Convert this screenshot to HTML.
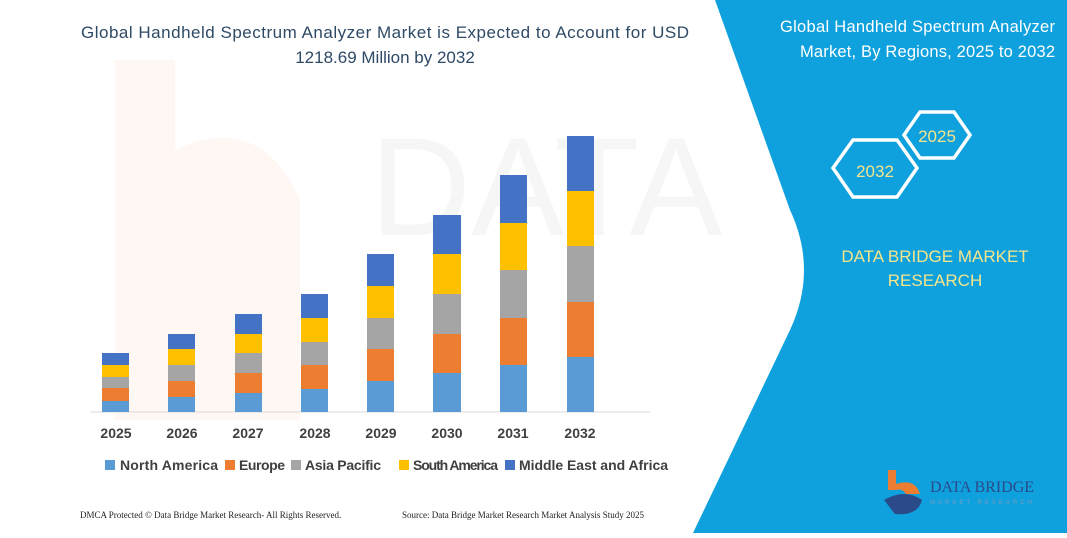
<!DOCTYPE html>
<html><head><meta charset="utf-8"><style>
body{margin:0;width:1067px;height:533px;overflow:hidden;background:#fff;font-family:"Liberation Sans",sans-serif;}
</style></head><body>
<svg width="1067" height="533" viewBox="0 0 1067 533" xmlns="http://www.w3.org/2000/svg">
<rect width="1067" height="533" fill="#fff"/>
<!-- faint watermark -->
<text x="370" y="235" font-size="140" fill="#f6f6f6" font-family="Liberation Sans">DATA</text>
<path d="M115,60 L175,60 L175,150 Q260,110 300,200 L300,420 L115,420 Z" fill="#fef7f3"/>
<!-- blue panel -->
<path d="M715,0 L1067,0 L1067,533 L693,533 L790,330 Q818,270 790,210 Z" fill="#0ea1dd"/>
<text x="1055" y="32" font-size="16.5" fill="#fff" text-anchor="end" textLength="275">Global Handheld Spectrum Analyzer</text>
<text x="1055" y="57" font-size="16.5" fill="#fff" text-anchor="end" textLength="255">Market, By Regions, 2025 to 2032</text>
<polygon points="904,135 920,112 954,112 970,135 954,158 920,158" fill="none" stroke="#fff" stroke-width="3.5"/>
<text x="937" y="142" font-size="17" fill="#f4e58c" text-anchor="middle">2025</text>
<polygon points="833,168 853,140 897,140 917,168 897,197 853,197" fill="none" stroke="#fff" stroke-width="3.5"/>
<text x="875" y="177" font-size="17" fill="#f4e58c" text-anchor="middle">2032</text>
<text x="935" y="262" font-size="17" fill="#f4e58c" text-anchor="middle">DATA BRIDGE MARKET</text>
<text x="935" y="286" font-size="17" fill="#f4e58c" text-anchor="middle">RESEARCH</text>
<!-- logo -->
<path d="M888,470 L896,470 L896,484 Q915,478 920,494 L906,494 Q902,488 896,490 L888,490 Z" fill="#ed7d31"/>
<path d="M884,500 Q905,488 922,500 Q918,516 895,514 Z" fill="#2b4a8a"/>
<text x="930" y="492" font-size="16" fill="#2b4a8a" font-family="Liberation Serif">DATA BRIDGE</text>
<text x="930" y="504" font-size="6" fill="#7a9ac0" letter-spacing="3">MARKET RESEARCH</text>
<!-- title -->
<text x="385" y="38" font-size="17" fill="#2e4a66" text-anchor="middle" textLength="608">Global Handheld Spectrum Analyzer Market is Expected to Account for  USD</text>
<text x="385" y="63" font-size="17" fill="#2e4a66" text-anchor="middle">1218.69 Million by 2032</text>
<!-- axis -->
<line x1="90" y1="412" x2="650" y2="412" stroke="#d9d9d9" stroke-width="1"/>
<g font-size="14" font-weight="bold" fill="#404040" text-anchor="middle">
<text x="116" y="438">2025</text><text x="182" y="438">2026</text><text x="248" y="438">2027</text><text x="315" y="438">2028</text>
<text x="381" y="438">2029</text><text x="447" y="438">2030</text><text x="513" y="438">2031</text><text x="580" y="438">2032</text>
</g>
<g font-size="14" font-weight="bold" fill="#404040">
<rect x="105" y="460" width="10" height="10" fill="#5b9bd5"/><text x="120" y="470" textLength="98">North America</text>
<rect x="225" y="460" width="10" height="10" fill="#ed7d31"/><text x="239" y="470" textLength="46">Europe</text>
<rect x="291" y="460" width="10" height="10" fill="#a5a5a5"/><text x="305" y="470" textLength="76">Asia Pacific</text>
<rect x="399" y="460" width="10" height="10" fill="#ffc000"/><text x="413" y="470" textLength="85">South America</text>
<rect x="505" y="460" width="10" height="10" fill="#4472c4"/><text x="519" y="470" textLength="149">Middle East and Africa</text>
</g>
<text x="80" y="518" font-size="9" fill="#222" font-family="Liberation Serif">DMCA Protected © Data Bridge Market Research-  All Rights Reserved.</text>
<text x="402" y="518" font-size="9" fill="#222" font-family="Liberation Serif">Source: Data Bridge Market Research  Market Analysis Study 2025</text>
<!-- bars -->
<g>
<rect x="102" y="401" width="27" height="11" fill="#5b9bd5"/><rect x="102" y="388" width="27" height="13" fill="#ed7d31"/><rect x="102" y="377" width="27" height="11" fill="#a5a5a5"/><rect x="102" y="365" width="27" height="12" fill="#ffc000"/><rect x="102" y="353" width="27" height="12" fill="#4472c4"/>
<rect x="168" y="397" width="27" height="15" fill="#5b9bd5"/><rect x="168" y="381" width="27" height="16" fill="#ed7d31"/><rect x="168" y="365" width="27" height="16" fill="#a5a5a5"/><rect x="168" y="349" width="27" height="16" fill="#ffc000"/><rect x="168" y="334" width="27" height="15" fill="#4472c4"/>
<rect x="235" y="393" width="27" height="19" fill="#5b9bd5"/><rect x="235" y="373" width="27" height="20" fill="#ed7d31"/><rect x="235" y="353" width="27" height="20" fill="#a5a5a5"/><rect x="235" y="334" width="27" height="19" fill="#ffc000"/><rect x="235" y="314" width="27" height="20" fill="#4472c4"/>
<rect x="301" y="389" width="27" height="23" fill="#5b9bd5"/><rect x="301" y="365" width="27" height="24" fill="#ed7d31"/><rect x="301" y="342" width="27" height="23" fill="#a5a5a5"/><rect x="301" y="318" width="27" height="24" fill="#ffc000"/><rect x="301" y="294" width="27" height="24" fill="#4472c4"/>
<rect x="367" y="381" width="27" height="31" fill="#5b9bd5"/><rect x="367" y="349" width="27" height="32" fill="#ed7d31"/><rect x="367" y="318" width="27" height="31" fill="#a5a5a5"/><rect x="367" y="286" width="27" height="32" fill="#ffc000"/><rect x="367" y="254" width="27" height="32" fill="#4472c4"/>
<rect x="433" y="373" width="28" height="39" fill="#5b9bd5"/><rect x="433" y="334" width="28" height="39" fill="#ed7d31"/><rect x="433" y="294" width="28" height="40" fill="#a5a5a5"/><rect x="433" y="254" width="28" height="40" fill="#ffc000"/><rect x="433" y="215" width="28" height="39" fill="#4472c4"/>
<rect x="500" y="365" width="27" height="47" fill="#5b9bd5"/><rect x="500" y="318" width="27" height="47" fill="#ed7d31"/><rect x="500" y="270" width="27" height="48" fill="#a5a5a5"/><rect x="500" y="223" width="27" height="47" fill="#ffc000"/><rect x="500" y="175" width="27" height="48" fill="#4472c4"/>
<rect x="567" y="357" width="27" height="55" fill="#5b9bd5"/><rect x="567" y="302" width="27" height="55" fill="#ed7d31"/><rect x="567" y="246" width="27" height="56" fill="#a5a5a5"/><rect x="567" y="191" width="27" height="55" fill="#ffc000"/><rect x="567" y="136" width="27" height="55" fill="#4472c4"/>
</g>
</svg>
</body></html>
